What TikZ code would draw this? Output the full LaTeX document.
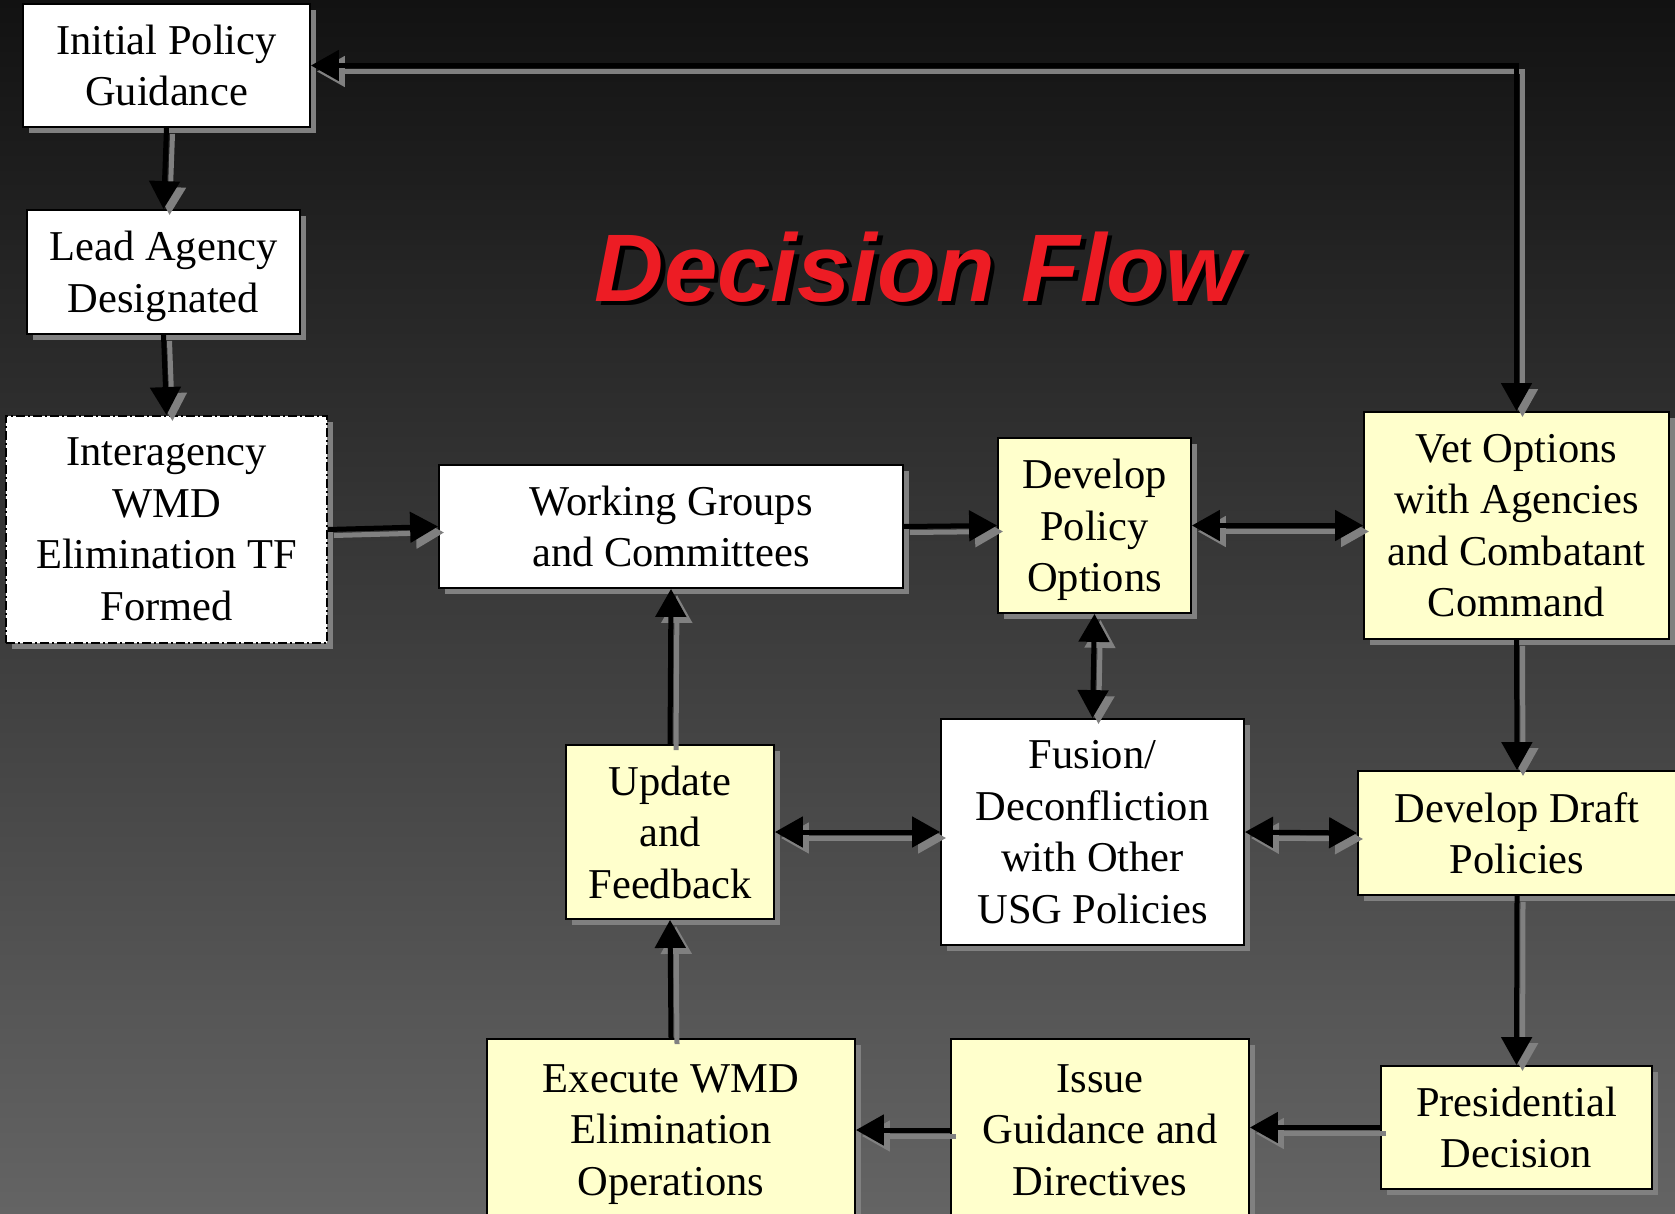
\documentclass[tikz,border=0pt]{standalone}
\usepackage{fontspec}
\setmainfont{Liberation Serif}
\newfontfamily\titlefont{Liberation Sans}
\usetikzlibrary{arrows.meta,shadows,calc}
\definecolor{shadowgray}{RGB}{128,128,128}
\definecolor{paleyellow}{RGB}{255,255,204}
\definecolor{titlered}{RGB}{237,28,36}
\definecolor{bgtop}{RGB}{18,18,18}
\definecolor{bgbottom}{RGB}{100,100,100}
\newcommand{\shadowarrow}[2]{%
  \draw[arrshadow,#1,transform canvas={shift={(6pt,-6pt)}}] #2;
  \draw[arrmain,#1] #2;}
\newcommand{\nodesc}[1]{\raisebox{0pt}[\height][0pt]{#1}}
\begin{document}
\begin{tikzpicture}[x=1pt,y=-1pt,
  >={Triangle[length=28pt,width=30pt]},
  box/.style={draw=black, line width=1.8pt, inner sep=0pt, align=center,
    font=\fontsize{42.5}{51.5}\selectfont,
    drop shadow={shadow xshift=6pt, shadow yshift=-6pt, opacity=1, fill=shadowgray}},
  whitebox/.style={box, fill=white},
  yellowbox/.style={box, fill=paleyellow},
  dashbox/.style={whitebox, dash pattern=on 9pt off 3pt on 2pt off 3pt},
  sz/.style 2 args={minimum width=#1pt, minimum height=#2pt},
  arrmain/.style={line width=5pt, draw=black},
  arrshadow/.style={line width=5pt, draw=shadowgray},
  titletext/.style={font=\titlefont\bfseries\itshape\fontsize{96}{110}\selectfont, anchor=base, inner sep=0pt},
]
\useasboundingbox (0,0) rectangle (1675,1214);
\clip (0,0) rectangle (1675,1214);
\shade[top color=bgtop, bottom color=bgbottom] (0,0) rectangle (1675,1214);

% title
\node[titletext, text=black] (titleshadow) at (922,306) {Decision Flow};
\node[titletext, text=titlered] (title) at (917.5,302) {Decision Flow};

% boxes
\node[whitebox, sz={287}{123}] (init) at (166.5,65.5) {Initial Policy\\Guidance};
\node[whitebox, sz={273}{124}] (lead) at (163.5,272) {Lead Agency\\\nodesc{Designated}};
\node[dashbox, sz={321}{227}] (inter) at (166.5,529.5) {Interagency\\WMD\\Elimination TF\\Formed};
\node[whitebox, sz={464}{123}] (work) at (671,526.5) {Working Groups\\and Committees};
\node[yellowbox, sz={193}{175}] (dpo) at (1094.5,525.5) {Develop\\Policy\\\nodesc{Options}};
\node[yellowbox, sz={305}{227}] (vet) at (1516.5,525.5) {Vet Options\\with Agencies\\and Combatant\\Command};
\node[whitebox, sz={303}{226}] (fusion) at (1092.5,832) {Fusion/\\Deconfliction\\with Other\\USG Policies};
\node[yellowbox, sz={208}{174}] (update) at (670,832) {Update\\and\\Feedback};
\node[yellowbox, sz={318}{124}] (draft) at (1517,833) {Develop Draft\\Policies};
\node[yellowbox, sz={271}{123}] (pres) at (1516.5,1127.5) {Presidential\\Decision};
\node[yellowbox, sz={298}{182}] (issue) at (1100,1130) {Issue\\Guidance and\\Directives};
\node[yellowbox, sz={368}{182}] (exec) at (671,1130) {Execute WMD\\Elimination\\\nodesc{Operations}};

% connectors
\shadowarrow{->}{(init.south) -- (lead.north)}
\shadowarrow{->}{(lead.south) -- (inter.north)}
\shadowarrow{->}{(inter.east) -- (work.west)}
\shadowarrow{->}{(work.east) -- (dpo.west)}
\shadowarrow{<->}{(dpo.east) -- (vet.west)}
\shadowarrow{<->}{(dpo.south) -- (fusion.north)}
\shadowarrow{<->}{(init.east) -| (vet.north)}
\shadowarrow{->}{(vet.south) -- (draft.north)}
\shadowarrow{->}{(draft.south) -- (pres.north)}
\shadowarrow{->}{(pres.west) -- (pres.west -| issue.east)}
\shadowarrow{->}{(issue.west) -- (issue.west -| exec.east)}
\shadowarrow{->}{(exec.north) -- (update.south)}
\shadowarrow{<->}{(update.east) -- (fusion.west)}
\shadowarrow{<->}{(fusion.east) -- (draft.west)}
\shadowarrow{->}{(update.north) -- (work.south)}
\end{tikzpicture}
\end{document}
